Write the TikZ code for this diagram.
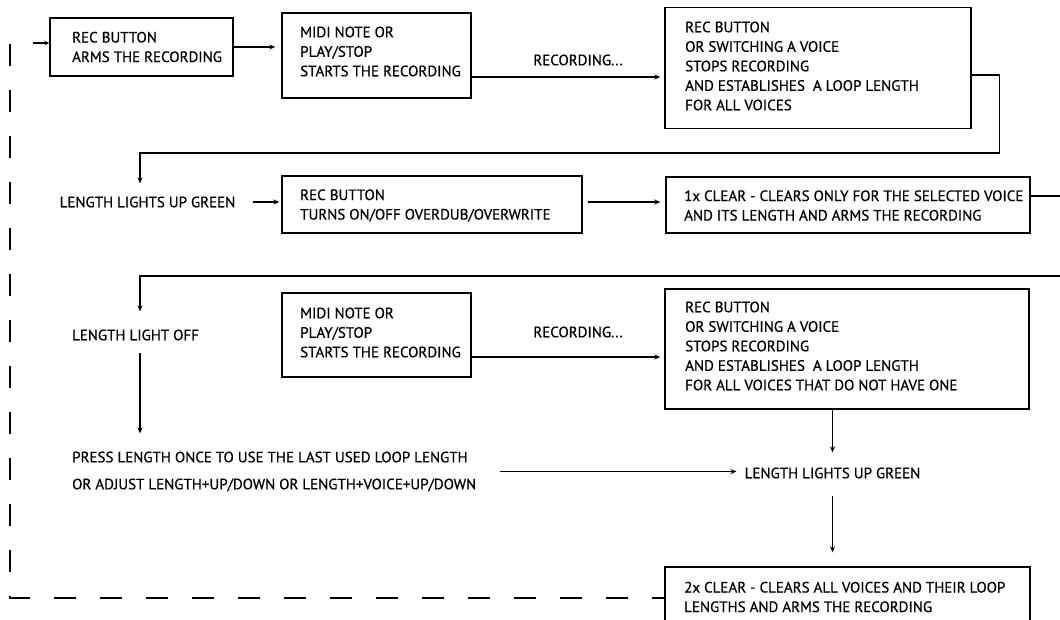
\documentclass[tikz,border=0pt]{standalone}
\usepackage{fontspec}
\setmainfont{PT Sans}[FakeBold=0.6]
\usetikzlibrary{arrows.meta,calc}
\begin{document}
\begin{tikzpicture}[x=1pt,y=-1pt,
  every node/.style={font=\fontsize{15}{19.5}\selectfont},
  box/.style={draw,line width=1.4pt,inner sep=0pt},
  txt/.style={align=left,inner sep=3pt,anchor=west},
  lbl/.style={inner sep=3pt},
  ln/.style={line width=1.3pt},
  arr/.style={line width=1.3pt,-{Stealth[length=6pt,width=5pt]}},
  dsh/.style={line width=1.5pt,dash pattern=on 22pt off 24pt,dash phase=10pt}]
\useasboundingbox (0,0) rectangle (1060,619);
\clip (0,0) rectangle (1060,619);

% boxes
\node[box,minimum width=183pt,minimum height=58pt] (b1) at (141.5,47) {};
\node[box,minimum width=189pt,minimum height=85pt] (b2) at (376.5,55.5) {};
\node[box,minimum width=306pt,minimum height=121pt] (b3) at (818,68) {};
\node[box,minimum width=300pt,minimum height=57pt] (b4) at (432,204.5) {};
\node[box,minimum width=364pt,minimum height=56pt] (b5) at (848,205) {};
\node[box,minimum width=189pt,minimum height=84pt] (b6) at (376.5,335) {};
\node[box,minimum width=364pt,minimum height=120pt] (b7) at (847,349) {};
\node[box,minimum width=365pt,minimum height=62pt] (b8) at (847.5,598) {};

% box texts
\node[txt] (t1) at (69,47) {REC BUTTON\\ARMS THE RECORDING};
\node[txt] (t2) at (297,51.5) {MIDI NOTE OR\\PLAY/STOP\\STARTS THE RECORDING};
\node[txt] (t3) at (682,66) {REC BUTTON\\OR SWITCHING A VOICE\\STOPS RECORDING\\AND ESTABLISHES\ \ A LOOP LENGTH\\FOR ALL VOICES};
\node[txt] (t4) at (297,205.5) {REC BUTTON\\TURNS ON/OFF OVERDUB/OVERWRITE};
\node[txt] (t5) at (681,205.5) {1x CLEAR - CLEARS ONLY FOR THE SELECTED VOICE\\AND ITS LENGTH AND ARMS THE RECORDING};
\node[txt] (t6) at (297,332.5) {MIDI NOTE OR\\PLAY/STOP\\STARTS THE RECORDING};
\node[txt] (t7) at (682,346) {REC BUTTON\\OR SWITCHING A VOICE\\STOPS RECORDING\\AND ESTABLISHES\ \ A LOOP LENGTH\\FOR ALL VOICES THAT DO NOT HAVE ONE};
\node[txt] (t8) at (681,597) {2x CLEAR - CLEARS ALL VOICES AND THEIR LOOP\\LENGTHS AND ARMS THE RECORDING};

% free labels
\node[lbl] (rec1) at (578,60) {RECORDING...};
\node[lbl] (rec2) at (578,332) {RECORDING...};
\node[lbl] (lg1) at (147.5,202) {LENGTH LIGHTS UP GREEN};
\node[lbl] (lo) at (135.5,335) {LENGTH LIGHT OFF};
\node[txt] (press) at (69,471.5) {PRESS LENGTH ONCE TO USE THE LAST USED LOOP LENGTH\\[7.5pt]OR ADJUST LENGTH+UP/DOWN OR LENGTH+VOICE+UP/DOWN};
\node[lbl] (lg2) at (832.5,473) {LENGTH LIGHTS UP GREEN};

% coordinates
\coordinate (r1) at (0,77);
\coordinate (r2) at (0,202);
\coordinate (r3) at (0,357);
\coordinate (e1) at (1060,196);
\coordinate (e2) at (1060,276);
\coordinate (dl) at (10,43);
\coordinate (dc) at (10,598);

% connectors
\draw[dsh,-{Stealth[length=5pt,width=4.5pt]}] (b8.west) -- (dc) -- (dl) -- (b1.west |- dl);
\draw[arr,shorten >=6pt] (b1.east) -- (b2.west |- b1.east);
\draw[arr,shorten >=4pt] (b2.east |- r1) -- (b3.west |- r1);
\draw[arr,shorten >=10pt] (b3.east |- 0,75) -- ++(28,0) -- ++(0,78) -| ([xshift=-7.5pt]lg1.north);
\draw[arr,shorten <=14pt,shorten >=2pt] (lg1.east) -- (b4.west |- lg1.east);
\draw[arr,shorten <=5pt,shorten >=5pt] (b4.east |- r2) -- (b5.west |- r2);
\draw[ln] (b5.east |- e1) -- (e1);
\draw[arr,shorten >=15pt] (e2) -| ([xshift=4.5pt]lo.north);
\draw[arr,shorten <=9pt,shorten >=15pt] ([xshift=4.5pt]lo.south) -- ([xshift=4.5pt]lo.south |- press.north);
\draw[arr,shorten <=21pt,shorten >=5pt] (press.east) -- (lg2.west |- press.east);
\draw[arr,shorten >=4pt] (b6.east |- r3) -- (b7.west |- r3);
\draw[arr,shorten >=12pt] (b7.south -| lg2.north) -- (lg2.north);
\draw[arr,shorten <=14pt,shorten >=14pt] (lg2.south) -- (lg2.south |- b8.north);
\end{tikzpicture}
\end{document}
